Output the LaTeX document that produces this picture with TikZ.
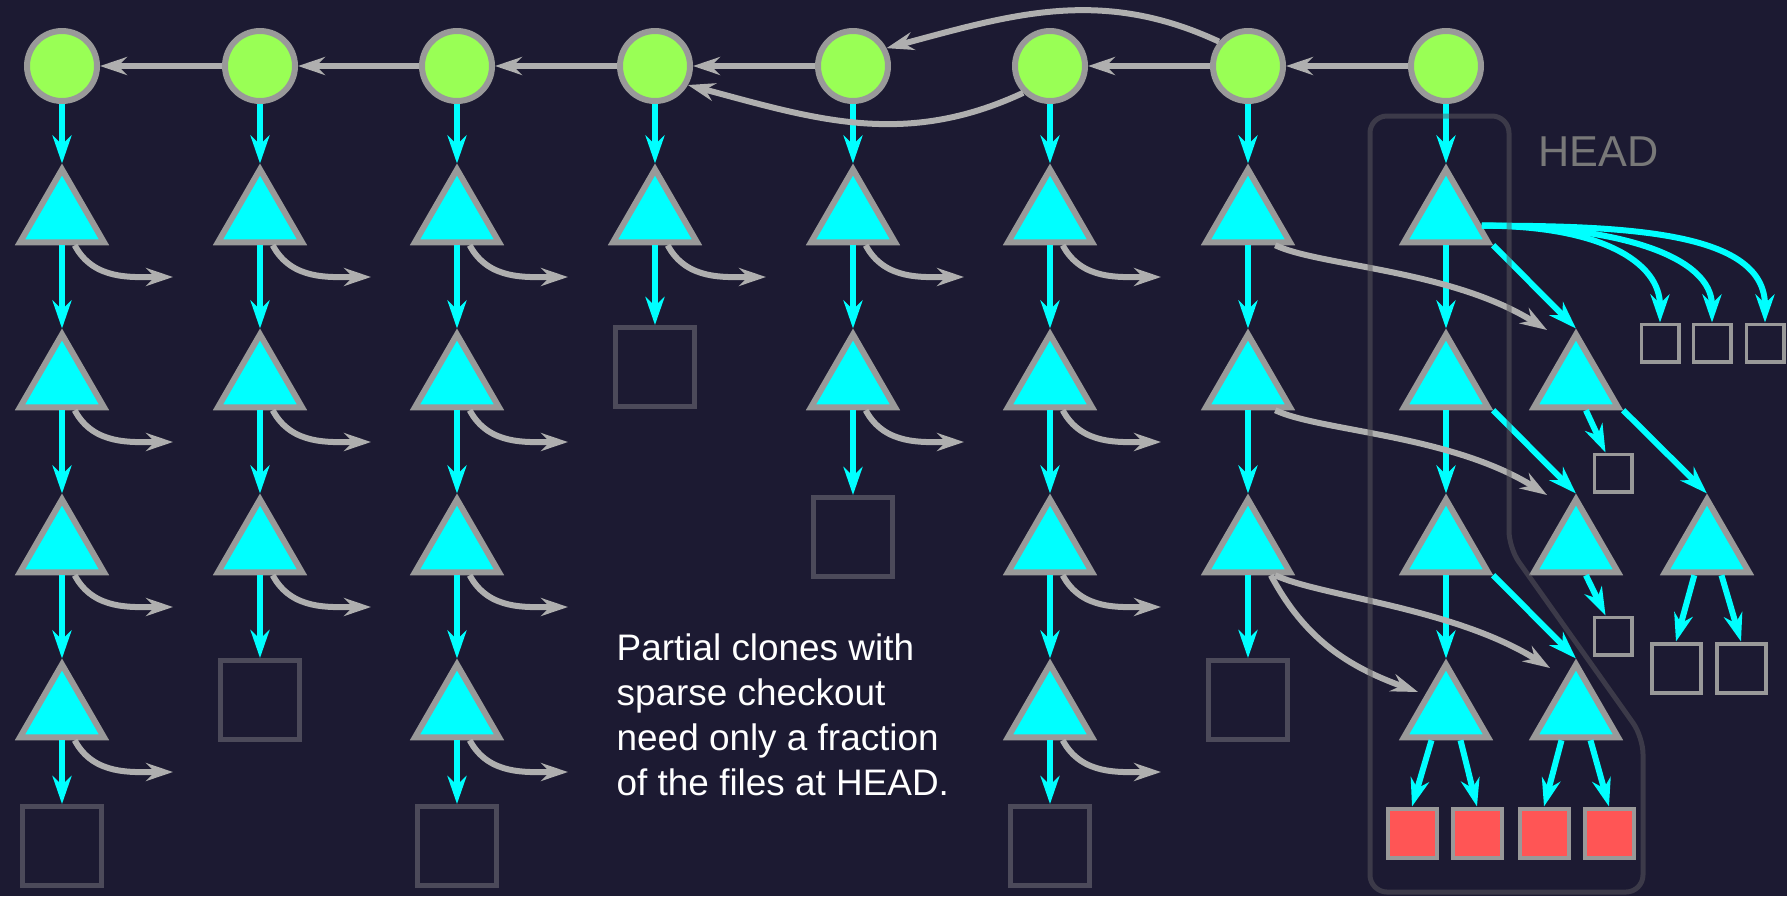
\documentclass[tikz,border=0pt]{standalone}
\usepackage{fontspec}
\setmainfont{Liberation Sans}
\usetikzlibrary{positioning}
\usetikzlibrary{shapes.geometric}
\usetikzlibrary{arrows.meta}

\definecolor{night}{RGB}{28,26,50}
\definecolor{commitgreen}{RGB}{153,255,85}
\definecolor{treecyan}{RGB}{0,255,255}
\definecolor{rim}{RGB}{153,153,153}
\definecolor{wire}{RGB}{175,175,175}
\definecolor{blobred}{RGB}{255,85,85}
\definecolor{ghost}{RGB}{76,74,90}
\definecolor{fence}{RGB}{92,90,96}
\definecolor{headgray}{RGB}{120,120,120}

\tikzset{
 commitnode/.style={circle,fill=commitgreen,draw=rim,line width=0.6mm,minimum size=7mm,inner sep=0},
 treenode/.style={regular polygon,regular polygon sides=3,fill=treecyan,draw=rim,line width=0.6mm,minimum size=9.7mm,inner sep=0},
 oldbox/.style={rectangle,draw=ghost,line width=0.5mm,minimum size=7.9mm,inner sep=0},
 smallbox/.style={rectangle,draw=rim,line width=0.35mm,minimum size=3.75mm,inner sep=0},
 midbox/.style={rectangle,draw=rim,line width=0.4mm,minimum size=4.9mm,inner sep=0},
 redbox/.style={midbox,fill=blobred},
 cyanlink/.style={draw=treecyan,line width=0.6mm,-{Stealth[length=2.8mm,width=1.9mm,inset=0.9mm]}},
 graylink/.style={draw=wire,line width=0.6mm,-{Stealth[length=2.7mm,width=1.8mm,inset=0.9mm]}}
}

\begin{document}
\begin{tikzpicture}[x=0.1mm,y=0.1mm]
 \fill[night] (0,0) rectangle (1787,-896);
 \useasboundingbox (0,0) rectangle (1787,-896);

 % commits
 \node[commitnode] (c1) at (62,-66) {};
 \node[commitnode] (c2) at (260,-66) {};
 \node[commitnode] (c3) at (457,-66) {};
 \node[commitnode] (c4) at (655,-66) {};
 \node[commitnode] (c5) at (853,-66) {};
 \node[commitnode] (c6) at (1050,-66) {};
 \node[commitnode] (c7) at (1248,-66) {};
 \node[commitnode] (c8) at (1446,-66) {};

 % trees and old blobs
 \node[treenode] (t11) at (62,-218) {};
 \node[treenode] (t12) at (62,-383) {};
 \node[treenode] (t13) at (62,-548) {};
 \node[treenode] (t14) at (62,-713) {};
 \node[oldbox] (b15) at (62,-846) {};
 \node[treenode] (t21) at (260,-218) {};
 \node[treenode] (t22) at (260,-383) {};
 \node[treenode] (t23) at (260,-548) {};
 \node[oldbox] (b24) at (260,-700) {};
 \node[treenode] (t31) at (457,-218) {};
 \node[treenode] (t32) at (457,-383) {};
 \node[treenode] (t33) at (457,-548) {};
 \node[treenode] (t34) at (457,-713) {};
 \node[oldbox] (b35) at (457,-846) {};
 \node[treenode] (t41) at (655,-218) {};
 \node[oldbox] (b42) at (655,-367) {};
 \node[treenode] (t51) at (853,-218) {};
 \node[treenode] (t52) at (853,-383) {};
 \node[oldbox] (b53) at (853,-537) {};
 \node[treenode] (t61) at (1050,-218) {};
 \node[treenode] (t62) at (1050,-383) {};
 \node[treenode] (t63) at (1050,-548) {};
 \node[treenode] (t64) at (1050,-713) {};
 \node[oldbox] (b65) at (1050,-846) {};
 \node[treenode] (t71) at (1248,-218) {};
 \node[treenode] (t72) at (1248,-383) {};
 \node[treenode] (t73) at (1248,-548) {};
 \node[oldbox] (b74) at (1248,-700) {};

 % HEAD
 \node[treenode] (t81) at (1446,-218) {};
 \node[treenode] (t82) at (1446,-383) {};
 \node[treenode] (t83) at (1446,-548) {};
 \node[treenode] (t84) at (1446,-713) {};
 \node[treenode] (ta) at (1576,-383) {};
 \node[treenode] (tb) at (1576,-548) {};
 \node[treenode] (tc) at (1707,-548) {};
 \node[treenode] (td) at (1576,-713) {};
 \node[smallbox] (f1) at (1660,-343) {};
 \node[smallbox] (f2) at (1712,-343) {};
 \node[smallbox] (f3) at (1765,-343) {};
 \node[smallbox] (fa) at (1613,-473) {};
 \node[smallbox] (fb) at (1613,-636) {};
 \node[midbox] (fc1) at (1676,-668) {};
 \node[midbox] (fc2) at (1741,-668) {};
 \node[redbox] (r1) at (1412,-833) {};
 \node[redbox] (r2) at (1477,-833) {};
 \node[redbox] (r3) at (1544,-833) {};
 \node[redbox] (r4) at (1609,-833) {};

 % commit -> tree -> tree
 \draw[cyanlink] (c1) -- (t11);
 \draw[cyanlink] (t11) -- (t12);
 \draw[cyanlink] (t12) -- (t13);
 \draw[cyanlink] (t13) -- (t14);
 \draw[cyanlink] (t14) -- (b15);
 \draw[cyanlink] (c2) -- (t21);
 \draw[cyanlink] (t21) -- (t22);
 \draw[cyanlink] (t22) -- (t23);
 \draw[cyanlink] (t23) -- (b24);
 \draw[cyanlink] (c3) -- (t31);
 \draw[cyanlink] (t31) -- (t32);
 \draw[cyanlink] (t32) -- (t33);
 \draw[cyanlink] (t33) -- (t34);
 \draw[cyanlink] (t34) -- (b35);
 \draw[cyanlink] (c4) -- (t41);
 \draw[cyanlink] (t41) -- (b42);
 \draw[cyanlink] (c5) -- (t51);
 \draw[cyanlink] (t51) -- (t52);
 \draw[cyanlink] (t52) -- (b53);
 \draw[cyanlink] (c6) -- (t61);
 \draw[cyanlink] (t61) -- (t62);
 \draw[cyanlink] (t62) -- (t63);
 \draw[cyanlink] (t63) -- (t64);
 \draw[cyanlink] (t64) -- (b65);
 \draw[cyanlink] (c7) -- (t71);
 \draw[cyanlink] (t71) -- (t72);
 \draw[cyanlink] (t72) -- (t73);
 \draw[cyanlink] (t73) -- (b74);
 \draw[cyanlink] (c8) -- (t81);
 \draw[cyanlink] (t81) -- (t82);
 \draw[cyanlink] (t82) -- (t83);
 \draw[cyanlink] (t83) -- (t84);
 \draw[cyanlink] (t81.corner 3) -- (ta.north);
 \draw[cyanlink] (t82.corner 3) -- (tb.north);
 \draw[cyanlink] (t83.corner 3) -- (td.north);
 \draw[cyanlink] (ta.corner 3) -- (tc.north);
 \draw[cyanlink] (ta.-70) -- (fa.110);
 \draw[cyanlink] (tb.-70) -- (fb.110);
 \draw[cyanlink] (tc.-115) -- (fc1.north);
 \draw[cyanlink] (tc.-62) -- (fc2.north);
 \draw[cyanlink] (t84.-118) -- (r1.north);
 \draw[cyanlink] (t84.-62) -- (r2.north);
 \draw[cyanlink] (td.-118) -- (r3.north);
 \draw[cyanlink] (td.-62) -- (r4.north);
 \draw[cyanlink] (t81.-12) to[out=0,in=90,out distance=12mm,in distance=6mm] (f1.north);
 \draw[cyanlink] (t81.-12) to[out=0,in=90,out distance=14mm,in distance=6.5mm] (f2.north);
 \draw[cyanlink] (t81.-12) to[out=0,in=90,out distance=15mm,in distance=9mm] (f3.north);

 % parents
 \draw[graylink] (c2) -- (c1);
 \draw[graylink] (c3) -- (c2);
 \draw[graylink] (c4) -- (c3);
 \draw[graylink] (c5) -- (c4);
 \draw[graylink] (c7) -- (c6);
 \draw[graylink] (c8) -- (c7);
 \draw[graylink] (c7.140) to[out=155,in=15] (c5.28);
 \draw[graylink] (c6.-135) to[out=-155,in=-15] (c4.-30);

 % reused trees
 \coordinate (e11) at (173,-277); \draw[graylink] (t11.-65) to[out=-62,in=180] (e11);
 \coordinate (e12) at (173,-442); \draw[graylink] (t12.-65) to[out=-62,in=180] (e12);
 \coordinate (e13) at (173,-607); \draw[graylink] (t13.-65) to[out=-62,in=180] (e13);
 \coordinate (e14) at (173,-772); \draw[graylink] (t14.-65) to[out=-62,in=180] (e14);
 \coordinate (e21) at (371,-277); \draw[graylink] (t21.-65) to[out=-62,in=180] (e21);
 \coordinate (e22) at (371,-442); \draw[graylink] (t22.-65) to[out=-62,in=180] (e22);
 \coordinate (e23) at (371,-607); \draw[graylink] (t23.-65) to[out=-62,in=180] (e23);
 \coordinate (e31) at (568,-277); \draw[graylink] (t31.-65) to[out=-62,in=180] (e31);
 \coordinate (e32) at (568,-442); \draw[graylink] (t32.-65) to[out=-62,in=180] (e32);
 \coordinate (e33) at (568,-607); \draw[graylink] (t33.-65) to[out=-62,in=180] (e33);
 \coordinate (e34) at (568,-772); \draw[graylink] (t34.-65) to[out=-62,in=180] (e34);
 \coordinate (e41) at (766,-277); \draw[graylink] (t41.-65) to[out=-62,in=180] (e41);
 \coordinate (e51) at (964,-277); \draw[graylink] (t51.-65) to[out=-62,in=180] (e51);
 \coordinate (e52) at (964,-442); \draw[graylink] (t52.-65) to[out=-62,in=180] (e52);
 \coordinate (e61) at (1161,-277); \draw[graylink] (t61.-65) to[out=-62,in=180] (e61);
 \coordinate (e62) at (1161,-442); \draw[graylink] (t62.-65) to[out=-62,in=180] (e62);
 \coordinate (e63) at (1161,-607); \draw[graylink] (t63.-65) to[out=-62,in=180] (e63);
 \coordinate (e64) at (1161,-772); \draw[graylink] (t64.-65) to[out=-62,in=180] (e64);
 \coordinate (g1) at (1547,-330);
 \coordinate (g2) at (1547,-495);
 \coordinate (g3) at (1550,-668);
 \coordinate (g4) at (1418,-692);
 \draw[graylink] (t71.-45) to[out=-25,in=148,out distance=5mm,in distance=11.4mm] (g1);
 \draw[graylink] (t72.-45) to[out=-25,in=148,out distance=5mm,in distance=11.4mm] (g2);
 \draw[graylink] (t73.-45) to[out=-25,in=148,out distance=5mm,in distance=11.4mm] (g3);
 \draw[graylink] (t73.-50) to[out=-62,in=160] (g4);

 % sparse checkout region
 \draw[fence,line width=0.5mm,opacity=0.5,rounded corners=1.7mm] (1370,-116) -- (1509,-116) -- (1509,-548) -- (1643,-737) -- (1643,-892) -- (1370,-892) -- cycle;
 \node[anchor=base west,inner sep=0,text=headgray,font=\fontsize{12.3}{14}\selectfont] (headlabel) at (1538,-166) {HEAD};
 \node[anchor=north west,align=left,inner sep=0,text=white,font=\fontsize{10.5}{12.8}\selectfont] (note) at (616,-633) {Partial clones with\\sparse checkout\\need only a fraction\\of the files at HEAD.};
\end{tikzpicture}
\end{document}
